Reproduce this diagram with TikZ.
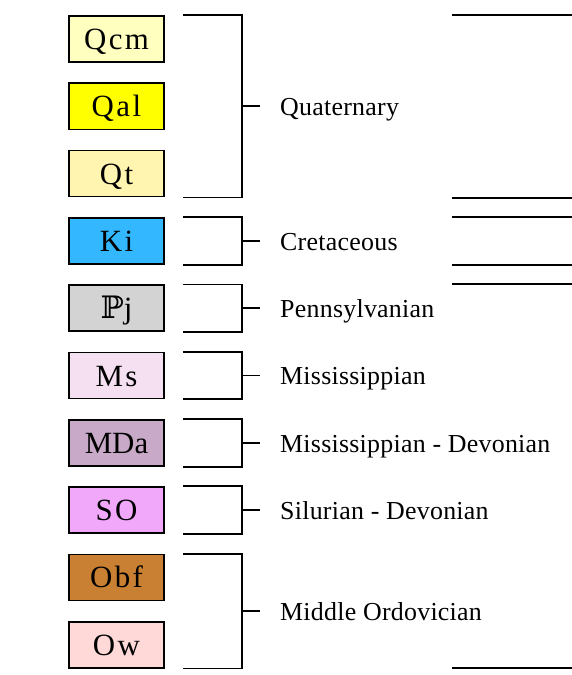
\documentclass[tikz,border=0pt]{standalone}
\usepackage{fontspec}
\setmainfont{Liberation Serif}
\newfontfamily\symfont{DejaVu Serif}
\usetikzlibrary{calc}
\definecolor{cQcm}{HTML}{FFFFC0}
\definecolor{cQal}{HTML}{FFFF00}
\definecolor{cQt}{HTML}{FFF5B0}
\definecolor{cKi}{HTML}{33B8FF}
\definecolor{cPj}{HTML}{D3D3D3}
\definecolor{cMs}{HTML}{F5E0F2}
\definecolor{cMDa}{HTML}{C8AAC8}
\definecolor{cSO}{HTML}{F2A8FA}
\definecolor{cObf}{HTML}{C98033}
\definecolor{cOw}{HTML}{FFD8D8}
\tikzset{
  unitbox/.style={draw, line width=1.6bp, fill=#1, minimum width=95bp, minimum height=46bp,
    inner sep=0pt, text height=21bp, text depth=0bp,
    font=\fontsize{31}{32}\selectfont\addfontfeature{LetterSpace=8}},
  agelabel/.style={anchor=base west, inner sep=0pt, font=\fontsize{26}{28}\selectfont\addfontfeature{LetterSpace=1}},
  brk/.style={line width=1.8bp},
}
\begin{document}
\begin{tikzpicture}[x=1bp,y=-1bp]
\useasboundingbox (0,0) rectangle (572,675);
% boxes
\node[unitbox=cQcm] (qcm) at (116.5,39) {Qcm};
\node[unitbox=cQal] (qal) at (116.5,106.3) {Qal};
\node[unitbox=cQt] (qt) at (116.5,173.6) {Qt};
\node[unitbox=cKi] (ki) at (116.5,240.9) {Ki};
\node[unitbox=cPj] (pj) at (116.5,308.2) {{\symfont ℙ}j};
\node[unitbox=cMs] (ms) at (116.5,375.5) {Ms};
\node[unitbox=cMDa, font=\fontsize{31}{32}\selectfont] (mda) at (116.5,442.8) {MDa};
\node[unitbox=cSO] (so) at (116.5,510.1) {SO};
\node[unitbox=cObf] (obf) at (116.5,577.4) {Obf};
\node[unitbox=cOw] (ow) at (116.5,644.7) {Ow};
% labels
\node[agelabel] (lq) at (280,116) {Quaternary};
\node[agelabel] (lk) at (280,250) {Cretaceous};
\node[agelabel] (lp) at (280,317.5) {Pennsylvanian};
\node[agelabel] (lm) at (280,384.5) {Mississippian};
\node[agelabel] (lmd) at (280,452) {Mississippian - Devonian};
\node[agelabel] (ls) at (280,519.5) {Silurian - Devonian};
\node[agelabel] (lo) at (280,620) {Middle Ordovician};
% brackets
\foreach \a/\b in {qcm/qt, ki/ki, pj/pj, ms/ms, mda/mda, so/so, obf/ow}{
  \draw[brk] ([xshift=18bp]\a.north east) -| ([xshift=77bp]\b.south east) -- ([xshift=18bp]\b.south east);
  \coordinate (m) at ($(\a.north east)!0.5!(\b.south east)$);
  \draw[brk] ([xshift=77bp]m) -- ([xshift=95bp]m);
}
% right-side lines
\foreach \y in {15,198,217,265,284,668}{
  \coordinate (r1) at (452,\y);
  \coordinate (r2) at (572,\y);
  \draw[brk] (r1) -- (r2);
}
\end{tikzpicture}
\end{document}
